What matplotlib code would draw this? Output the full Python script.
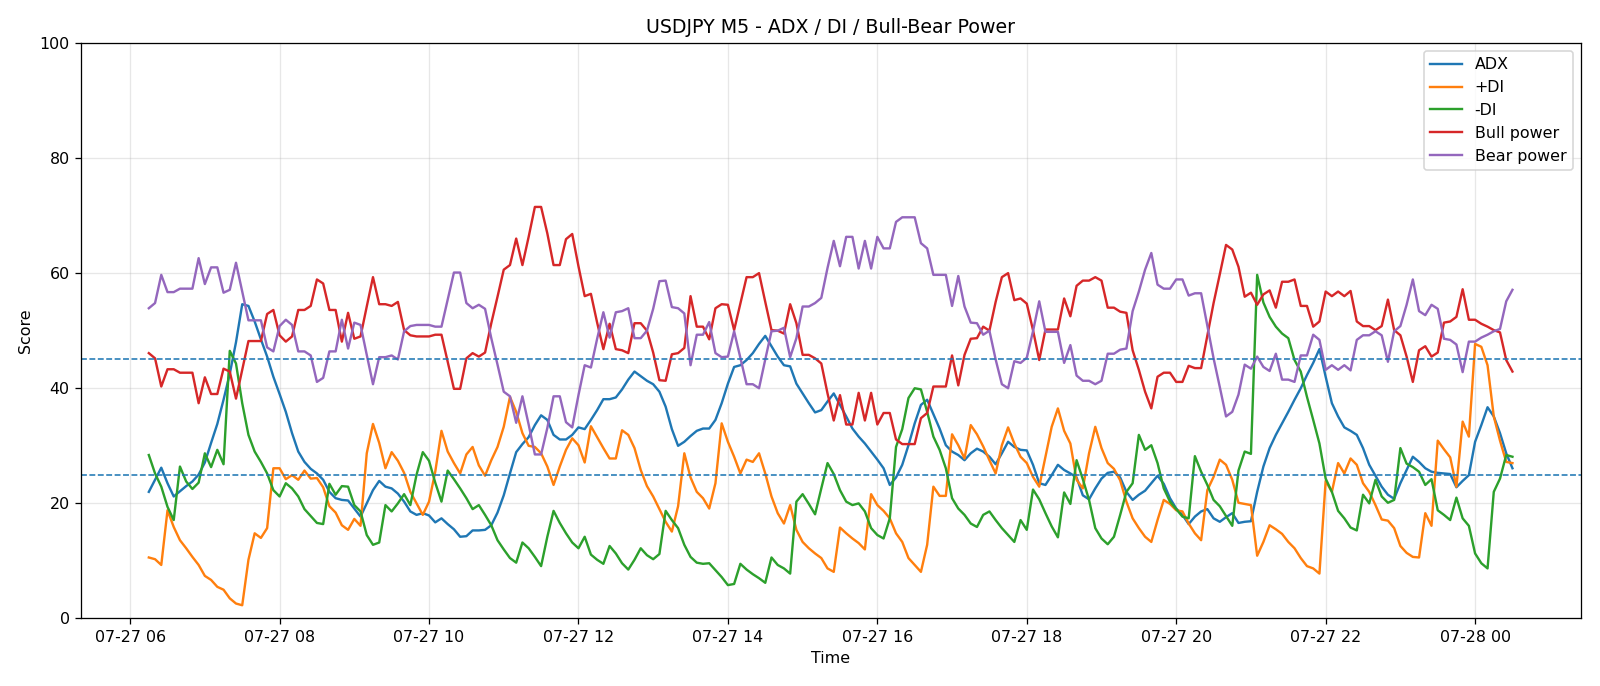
import matplotlib
matplotlib.use("Agg")
import matplotlib.pyplot as plt
import matplotlib.dates as mdates
import pandas as pd

start_time = "2025-07-27 06:15"
n_bars = 220
times = pd.date_range(start_time, periods=n_bars, freq="5min")

adx = [22.0, 24.1, 26.2, 23.5, 21.2, 22.1, 23.0, 23.8, 25.0, 27.1, 30.5, 33.8, 38.0, 42.5, 48.0, 54.6, 54.3, 51.6, 48.5, 45.5, 42.0, 39.0,
       35.9, 32.2, 29.0, 27.2, 26.0, 25.2, 24.1, 22.0, 20.9, 20.6, 20.5, 19.1, 17.7, 20.0, 22.3, 23.9, 22.9, 22.6, 21.7, 20.3, 18.6, 18.0,
       18.3, 17.9, 16.7, 17.4, 16.4, 15.5, 14.2, 14.3, 15.3, 15.3, 15.4, 16.2, 18.4, 21.4, 25.2, 28.9, 30.3, 31.5, 33.6, 35.3, 34.5, 31.9, 31.1,
       31.1, 31.9, 33.2, 32.9, 34.5, 36.2, 38.1, 38.1, 38.4, 39.8, 41.5, 42.9, 42.1, 41.3, 40.7, 39.4, 36.8, 32.9, 30.0, 30.7, 31.7, 32.6,
       33.0, 33.0, 34.5, 37.4, 40.8, 43.7, 44.0, 44.9, 46.1, 47.7, 49.1, 47.3, 45.5, 44.0, 43.8, 40.8, 39.1, 37.4, 35.8, 36.2, 37.7, 39.1, 37.1,
       35.1, 33.0, 31.6, 30.4, 29.0, 27.6, 26.1, 23.2, 24.5, 26.7, 30.1, 33.9, 37.1, 38.0, 35.5, 33.0, 30.1, 29.0, 28.4, 27.5, 28.7, 29.5,
       29.0, 28.1, 26.8, 28.7, 30.7, 29.8, 29.3, 29.2, 26.7, 23.5, 23.2, 24.9, 26.7, 25.8, 25.2, 24.5, 21.4, 20.7, 22.6, 24.3, 25.3, 25.5, 24.5,
       22.0, 20.6, 21.5, 22.2, 23.5, 24.8, 23.4, 20.9, 19.1, 18.0, 16.4, 17.7, 18.6, 19.0, 17.4, 16.8, 17.6, 18.3, 16.6, 16.8, 16.9, 22.0,
       26.4, 29.6, 31.9, 33.9, 35.9, 38.0, 40.0, 42.3, 44.4, 46.8, 42.0, 37.4, 35.1, 33.2, 32.6, 31.9, 29.6, 26.7, 24.8, 22.9, 21.5, 20.8,
       23.5, 25.8, 28.1, 27.2, 26.1, 25.5, 25.3, 25.2, 25.1, 22.8, 23.9, 24.9, 30.7, 33.6, 36.7, 35.1, 32.2, 28.7, 26.1]

plus_di = [10.6, 10.3, 9.3, 18.8, 15.9, 13.6, 12.2, 10.7, 9.3, 7.4, 6.7, 5.5, 5.0, 3.5, 2.6, 2.3, 10.2, 14.8, 14.0, 15.7, 26.1, 26.1,
           24.2, 24.9, 24.1, 25.7, 24.3, 24.4, 22.8, 19.5, 18.4, 16.2, 15.4, 17.3, 16.1, 28.7, 33.8, 30.5, 26.1, 28.9, 27.4, 25.3, 22.0, 20.0,
           18.0, 20.3, 25.5, 32.6, 29.0, 27.0, 25.2, 28.5, 29.8, 26.6, 24.8, 27.5, 29.8, 33.3, 38.5, 35.9, 32.2, 30.0, 29.8, 28.7, 26.4, 23.2, 26.4,
           29.3, 31.3, 30.1, 27.1, 33.4, 31.5, 29.6, 27.8, 27.8, 32.7, 31.9, 29.6, 25.8, 23.0, 21.2, 19.0, 16.8, 15.1, 19.5, 28.7, 24.5, 22.0,
           20.9, 19.1, 23.5, 33.9, 30.7, 28.1, 25.2, 27.6, 27.2, 28.7, 25.2, 21.2, 18.3, 16.5, 19.7, 15.4, 13.3, 12.2, 11.3, 10.5, 8.7, 8.1, 15.8,
           14.8, 13.9, 13.1, 12.0, 21.6, 19.7, 18.7, 17.4, 14.8, 13.3, 10.5, 9.3, 8.1, 12.8, 22.9, 21.3, 21.3, 32.0, 30.1, 27.8, 33.6, 32.0,
           29.9, 27.5, 25.2, 30.1, 33.2, 30.4, 28.1, 27.0, 24.6, 22.9, 28.1, 33.3, 36.5, 32.6, 30.4, 24.1, 22.6, 28.7, 33.3, 29.6, 27.0, 26.0, 24.0,
           20.3, 17.4, 15.7, 14.2, 13.3, 17.1, 20.6, 19.9, 18.8, 18.6, 16.5, 14.8, 13.6, 22.3, 24.6, 27.6, 26.7, 24.1, 20.1, 19.9, 19.7, 10.9,
           13.3, 16.2, 15.5, 14.7, 13.3, 12.2, 10.5, 9.1, 8.7, 7.8, 23.9, 22.0, 27.0, 25.2, 27.8, 26.7, 23.5, 22.0, 19.7, 17.2, 17.0, 15.7,
           12.6, 11.4, 10.7, 10.6, 18.3, 16.1, 30.9, 29.4, 28.0, 22.9, 34.2, 31.6, 47.7, 47.2, 44.0, 35.1, 30.9, 27.2, 27.0]

minus_di = [28.4, 25.2, 22.9, 19.4, 17.1, 26.4, 23.8, 22.5, 23.6, 28.7, 26.3, 29.3, 26.8, 46.5, 44.3, 37.4, 31.9, 29.0, 27.2, 25.2, 22.3, 21.2,
            23.5, 22.6, 21.2, 19.0, 17.8, 16.6, 16.4, 23.4, 21.5, 23.0, 22.9, 19.7, 18.6, 14.5, 12.8, 13.2, 19.7, 18.6, 20.0, 21.6, 19.7, 25.0,
            28.9, 27.4, 23.6, 20.3, 25.7, 24.2, 22.6, 20.9, 19.0, 19.7, 18.0, 16.2, 13.6, 12.0, 10.5, 9.7, 13.2, 12.2, 10.7, 9.1, 14.2, 18.7, 16.6,
            14.8, 13.2, 12.2, 14.2, 11.1, 10.2, 9.5, 12.6, 11.3, 9.6, 8.5, 10.2, 12.2, 11.0, 10.3, 11.2, 18.7, 17.1, 15.7, 12.8, 10.7, 9.7,
            9.5, 9.6, 8.4, 7.2, 5.8, 6.0, 9.5, 8.5, 7.7, 7.0, 6.2, 10.6, 9.3, 8.7, 7.8, 20.3, 21.6, 19.9, 18.1, 22.6, 27.0, 25.1, 22.3,
            20.3, 19.7, 20.0, 18.6, 15.7, 14.5, 13.9, 17.4, 29.8, 32.9, 38.3, 40.0, 39.8, 35.9, 31.6, 29.3, 26.1, 20.9, 19.1, 18.0, 16.5, 15.9,
            18.0, 18.6, 17.1, 15.7, 14.5, 13.3, 17.1, 15.4, 22.4, 20.7, 18.3, 16.0, 14.1, 21.9, 19.9, 27.5, 24.2, 20.6, 15.7, 13.9, 12.9, 14.2, 18.0,
            22.0, 23.5, 31.9, 29.3, 30.1, 27.0, 22.6, 20.3, 19.0, 17.7, 17.4, 28.2, 25.5, 23.2, 20.6, 19.5, 17.8, 16.1, 25.7, 29.0, 28.6, 59.7,
            54.9, 52.4, 50.7, 49.5, 48.7, 44.9, 42.9, 38.5, 34.5, 30.4, 24.3, 22.0, 18.7, 17.4, 15.8, 15.3, 21.5, 20.0, 24.1, 21.2, 20.1, 20.6,
            29.6, 26.9, 26.3, 25.5, 23.2, 24.2, 18.8, 18.0, 17.1, 21.0, 17.4, 16.1, 11.3, 9.6, 8.7, 22.0, 24.3, 28.4, 28.1]

bull_power = [46.1, 45.2, 40.3, 43.3, 43.3, 42.7, 42.7, 42.7, 37.4, 41.9, 39.0, 39.0, 43.4, 42.9, 38.2, 43.2, 48.2, 48.2, 48.2, 52.9, 53.6, 49.2,
              48.1, 49.0, 53.6, 53.6, 54.3, 58.9, 58.2, 53.6, 53.6, 48.1, 53.1, 48.6, 49.0, 54.2, 59.3, 54.6, 54.6, 54.3, 55.0, 50.1, 49.2, 49.0,
              49.0, 49.0, 49.3, 49.3, 44.6, 39.9, 39.9, 45.2, 46.1, 45.5, 46.2, 51.3, 55.9, 60.6, 61.4, 66.0, 61.4, 66.3, 71.5, 71.5, 66.9, 61.4, 61.4,
              65.9, 66.8, 61.2, 56.0, 56.4, 51.4, 46.8, 51.2, 46.8, 46.6, 46.1, 51.3, 51.3, 50.0, 46.2, 41.4, 41.3, 45.9, 46.1, 47.0, 56.0, 50.7,
              50.7, 48.5, 53.9, 54.6, 54.5, 50.1, 54.7, 59.3, 59.3, 60.0, 55.0, 50.1, 50.0, 49.5, 54.6, 51.3, 45.8, 45.8, 45.2, 44.3, 39.1, 34.4, 38.8,
              33.7, 33.7, 39.2, 34.4, 39.2, 33.7, 35.7, 35.7, 31.1, 30.3, 30.3, 30.3, 34.8, 35.7, 40.3, 40.3, 40.3, 45.7, 40.5, 45.8, 48.6, 48.7,
              50.7, 50.0, 55.0, 59.3, 60.0, 55.3, 55.6, 54.7, 50.1, 44.9, 50.2, 50.2, 50.2, 55.6, 52.5, 57.8, 58.7, 58.7, 59.3, 58.7, 54.0, 54.0, 53.3,
              53.1, 46.6, 43.2, 39.4, 36.5, 42.0, 42.7, 42.7, 41.1, 41.1, 43.9, 43.5, 43.5, 49.2, 54.8, 59.8, 64.9, 64.1, 61.1, 55.9, 56.6, 54.5,
              56.3, 57.0, 54.0, 58.5, 58.5, 58.9, 54.3, 54.3, 50.7, 51.6, 56.8, 56.0, 56.8, 56.0, 56.9, 51.6, 50.8, 50.8, 50.1, 50.8, 55.4, 50.1,
              49.2, 45.5, 41.1, 46.6, 47.3, 45.5, 46.2, 51.4, 51.6, 52.4, 57.2, 51.9, 51.9, 51.2, 50.7, 50.1, 49.7, 44.9, 42.9]

bear_power = [53.9, 54.8, 59.7, 56.7, 56.7, 57.3, 57.3, 57.3, 62.6, 58.1, 61.0, 61.0, 56.6, 57.1, 61.8, 56.8, 51.8, 51.8, 51.8, 47.1, 46.4, 50.8,
              51.9, 51.0, 46.4, 46.4, 45.7, 41.1, 41.8, 46.4, 46.4, 51.9, 46.9, 51.4, 51.0, 45.8, 40.7, 45.4, 45.4, 45.7, 45.0, 49.9, 50.8, 51.0,
              51.0, 51.0, 50.7, 50.7, 55.4, 60.1, 60.1, 54.8, 53.9, 54.5, 53.8, 48.7, 44.1, 39.4, 38.6, 34.0, 38.6, 33.7, 28.5, 28.5, 33.1, 38.6, 38.6,
              34.1, 33.2, 38.8, 44.0, 43.6, 48.6, 53.2, 48.8, 53.2, 53.4, 53.9, 48.7, 48.7, 50.0, 53.8, 58.6, 58.7, 54.1, 53.9, 53.0, 44.0, 49.3,
              49.3, 51.5, 46.1, 45.4, 45.5, 49.9, 45.3, 40.7, 40.7, 40.0, 45.0, 49.9, 50.0, 50.5, 45.4, 48.7, 54.2, 54.2, 54.8, 55.7, 60.9, 65.6, 61.2,
              66.3, 66.3, 60.8, 65.6, 60.8, 66.3, 64.3, 64.3, 68.9, 69.7, 69.7, 69.7, 65.2, 64.3, 59.7, 59.7, 59.7, 54.3, 59.5, 54.2, 51.4, 51.3,
              49.3, 50.0, 45.0, 40.7, 40.0, 44.7, 44.4, 45.3, 49.9, 55.1, 49.8, 49.8, 49.8, 44.4, 47.5, 42.2, 41.3, 41.3, 40.7, 41.3, 46.0, 46.0, 46.7,
              46.9, 53.4, 56.8, 60.6, 63.5, 58.0, 57.3, 57.3, 58.9, 58.9, 56.1, 56.5, 56.5, 50.8, 45.2, 40.2, 35.1, 35.9, 38.9, 44.1, 43.4, 45.5,
              43.7, 43.0, 46.0, 41.5, 41.5, 41.1, 45.7, 45.7, 49.3, 48.4, 43.2, 44.0, 43.2, 44.0, 43.1, 48.4, 49.2, 49.2, 49.9, 49.2, 44.6, 49.9,
              50.8, 54.5, 58.9, 53.4, 52.7, 54.5, 53.8, 48.6, 48.4, 47.6, 42.8, 48.1, 48.1, 48.8, 49.3, 49.9, 50.3, 55.1, 57.1]

series = [
    ("ADX", adx),
    ("+DI", plus_di),
    ("-DI", minus_di),
    ("Bull power", bull_power),
    ("Bear power", bear_power),
]
threshold_levels = [25, 45]

DPI = 1600 / 14
fig = plt.figure(figsize=(14, 686 / DPI), dpi=DPI)
ax = fig.add_axes([0.0504, 0.0984, 0.9375, 0.8391])

for label, values in series:
    ax.plot(times, values, label=label, linewidth=1.5)

for lvl in threshold_levels:
    ax.axhline(lvl, linestyle="--", linewidth=1.0, color="C0")

ax.set_ylim(0, 100)
ax.set_title("USDJPY M5 - ADX / DI / Bull-Bear Power")
ax.set_xlabel("Time")
ax.set_ylabel("Score")
ax.grid(True, alpha=0.3)
ax.legend(loc="upper right")
ax.xaxis.set_major_locator(mdates.HourLocator(byhour=range(0, 24, 2)))
ax.xaxis.set_major_formatter(mdates.DateFormatter("%m-%d %H"))

fig.savefig("out.png", dpi=DPI)
